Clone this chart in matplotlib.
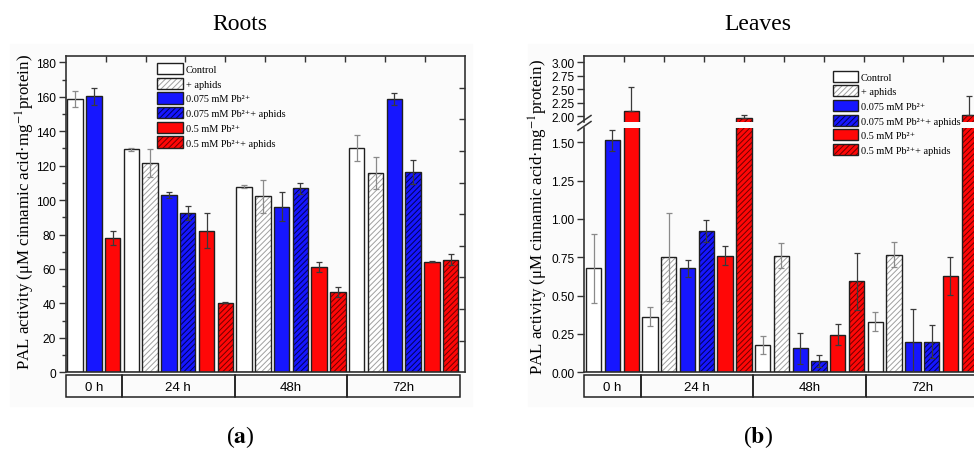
import numpy as np
import matplotlib
matplotlib.use('Agg')
import matplotlib.pyplot as plt
from matplotlib.patches import Rectangle, Patch
from matplotlib.lines import Line2D
from matplotlib.legend_handler import HandlerTuple

plt.rcParams['mathtext.fontset'] = 'stix'
plt.rcParams['hatch.linewidth'] = 0.7

nan = np.nan
# ---------------- data ----------------
groups = ['0 h', '24 h', '48h', '72h']
series_labels = ['Control', '+ aphids', '0.075 mM Pb²⁺',
                 '0.075 mM Pb²⁺+ aphids', '0.5 mM Pb²⁺',
                 '0.5 mM Pb²⁺+ aphids']

# Roots (panel a)
roots_control = [158.7, 129.5, 107.8, 130.5]
roots_control_err = [4.5, 1.0, 0.8, 7.5]
roots_aphids = [nan, 121.4, 102.2, 115.7]
roots_aphids_err = [nan, 8.0, 9.5, 9.3]
roots_pb075 = [160.3, 103.0, 96.2, 158.7]
roots_pb075_err = [5.0, 2.0, 8.5, 3.5]
roots_pb075_aph = [nan, 92.5, 106.8, 116.3]
roots_pb075_aph_err = [nan, 4.0, 3.0, 7.0]
roots_pb05 = [77.8, 82.3, 61.0, 64.3]
roots_pb05_err = [4.0, 10.0, 3.0, 0.5]
roots_pb05_aph = [nan, 40.3, 46.8, 65.4]
roots_pb05_aph_err = [nan, 0.3, 3.0, 3.2]

# Leaves (panel b)
leaves_control = [0.678, 0.361, 0.178, 0.330]
leaves_control_err = [0.225, 0.062, 0.056, 0.060]
leaves_aphids = [nan, 0.750, 0.761, 0.767]
leaves_aphids_err = [nan, 0.287, 0.083, 0.080]
leaves_pb075 = [1.513, 0.678, 0.157, 0.200]
leaves_pb075_err = [0.067, 0.055, 0.100, 0.210]
leaves_pb075_aph = [nan, 0.922, 0.074, 0.200]
leaves_pb075_aph_err = [nan, 0.072, 0.037, 0.107]
leaves_pb05 = [2.099, 0.761, 0.246, 0.628]
leaves_pb05_err = [0.440, 0.063, 0.070, 0.126]
leaves_pb05_aph = [nan, 1.969, 0.593, 2.031]
leaves_pb05_aph_err = [nan, 0.060, 0.186, 0.350]

roots_vals = [roots_control, roots_aphids, roots_pb075, roots_pb075_aph, roots_pb05, roots_pb05_aph]
roots_errs = [roots_control_err, roots_aphids_err, roots_pb075_err, roots_pb075_aph_err, roots_pb05_err, roots_pb05_aph_err]
leaves_vals = [leaves_control, leaves_aphids, leaves_pb075, leaves_pb075_aph, leaves_pb05, leaves_pb05_aph]
leaves_errs = [leaves_control_err, leaves_aphids_err, leaves_pb075_err, leaves_pb075_aph_err, leaves_pb05_err, leaves_pb05_aph_err]

# ---------------- styles ----------------
BLUE = '#1616ff'
RED = '#ff0707'
styles = [  # face, hatch, hatch colour, error colour
    ('white', None, 'white', '#8a8a8a'),
    ('white', '//////', '#a0a0a0', '#8a8a8a'),
    (BLUE, None, BLUE, '#3a3a3a'),
    (BLUE, '//////', '#00005a', '#3a3a3a'),
    (RED, None, RED, '#3a3a3a'),
    (RED, '//////', '#700000', '#3a3a3a'),
]
EDGE = '#202020'
BW = 0.82
XLIM = (-0.5, 20.75)
W, H = 974, 452

fig = plt.figure(figsize=(W / 100, H / 100), dpi=100)
SERIF = ['Liberation Serif', 'DejaVu Serif']
SANS = ['Liberation Sans', 'DejaVu Sans']


def fx(px):
    return px / W


def fy(py):
    return 1 - py / H


# light panel backgrounds
fig.add_artist(Rectangle((fx(10), fy(407)), fx(462), fy(45) - fy(407),
                         transform=fig.transFigure, color='#fbfbfb', zorder=-10))
fig.add_artist(Rectangle((fx(528), fy(407)), fx(446), fy(45) - fy(407),
                         transform=fig.transFigure, color='#fbfbfb', zorder=-10))


def layout(vals):
    xs = [[] for _ in vals]
    spans = []
    slot = 0
    for gi in range(len(groups)):
        n = 0
        for si in range(len(vals)):
            if not np.isnan(vals[si][gi]):
                xs[si].append((slot, gi))
                slot += 1
                n += 1
        spans.append(n)
    return xs, spans


def draw_bars(ax, vals, errs, up_only=False):
    xs, spans = layout(vals)
    for si, (face, hatch, hc, ec) in enumerate(styles):
        x = [p for p, g in xs[si]]
        v = [vals[si][g] for p, g in xs[si]]
        e = [errs[si][g] for p, g in xs[si]]
        ax.bar(x, v, BW, color=face, edgecolor=hc, hatch=hatch, linewidth=0, zorder=2)
        ax.bar(x, v, BW, fill=False, edgecolor=EDGE, linewidth=1.0, zorder=3)
        if up_only:
            yerr = [np.zeros(len(e)), e]
        else:
            yerr = e
        ax.errorbar(x, v, yerr=yerr, fmt='none', ecolor=ec, elinewidth=0.9,
                    capsize=2.3, capthick=0.9, zorder=4)
    return spans


def style_axis(ax, ylim, yticks, top=True, bottom=True):
    ax.set_xlim(*XLIM)
    ax.set_ylim(*ylim)
    ax.set_facecolor('none')
    ax.set_yticks(yticks)
    for s in ax.spines.values():
        s.set_color('#333333')
        s.set_linewidth(1.2)
    ax.spines['right'].set_visible(True)
    ax.spines['top'].set_visible(top)
    ax.spines['bottom'].set_visible(bottom)
    ax.set_xticks(np.linspace(XLIM[0], XLIM[1], 11)[1:-1] if top else [])
    ax.tick_params(axis='x', top=top, bottom=False, labeltop=False, labelbottom=False,
                   direction='in', length=4, width=1, color='#333333')
    ax.tick_params(axis='y', direction='out', length=5, width=1, color='#333333',
                   labelsize=8.6, pad=2)
    for lab in ax.get_yticklabels():
        lab.set_fontfamily(SANS)


def right_ticks(ax, ylim):
    ax2 = ax.twinx()
    ax2.set_ylim(*ylim)
    ax2.set_yticks(np.linspace(ylim[0], ylim[1], 11)[1:-1])
    ax2.tick_params(axis='y', direction='in', length=4, width=1, color='#333333',
                    labelright=False)
    for s in ax2.spines.values():
        s.set_visible(False)
    ax2.patch.set_visible(False)


def category_box(left_px, width_px, spans):
    cax = fig.add_axes([fx(left_px), fy(397.7), fx(width_px), (397.7 - 376) / H])
    cax.set_xlim(*XLIM)
    cax.set_ylim(0, 1)
    cax.axis('off')
    start = XLIM[0]
    for g, n in zip(groups, spans):
        cax.add_patch(Rectangle((start, 0), n, 1, fill=False, edgecolor='#222222',
                                linewidth=1.1, clip_on=False))
        cax.text(start + n / 2, 0.45, g, ha='center', va='center', fontsize=9.5,
                 family=SANS, clip_on=False)
        start += n


def add_legend(x_px, y_px):
    handles = []
    for face, hatch, hc, ec in styles:
        handles.append((Patch(facecolor=face, edgecolor=hc, hatch=hatch, linewidth=0),
                        Patch(fill=False, edgecolor=EDGE, linewidth=1.0)))
    leg = fig.legend(handles, series_labels, loc='upper left',
                     bbox_to_anchor=(fx(x_px), fy(y_px)), frameon=False,
                     handler_map={tuple: HandlerTuple(ndivide=1)},
                     prop={'family': SERIF, 'size': 7.4}, handlelength=2.5,
                     handleheight=1.3, labelspacing=0.34, handletextpad=0.25,
                     borderpad=0, borderaxespad=0)
    return leg


# ---------------- panel (a) Roots ----------------
A_LEFT, A_W = 65.7, 399.0
ax = fig.add_axes([fx(A_LEFT), fy(373.3), fx(A_W), (373.3 - 57) / H])
spans = draw_bars(ax, roots_vals, roots_errs)
ylim_a = (0, 183.7)
style_axis(ax, ylim_a, np.arange(0, 181, 20))
ax.set_yticks(np.arange(0, 181, 10), minor=True)
ax.tick_params(axis='y', which='minor', direction='out', length=3, width=1, color='#333333')
right_ticks(ax, ylim_a)
category_box(A_LEFT, A_W, spans)
add_legend(157.3, 64.0)
fig.text(fx(240), fy(24), 'Roots', ha='center', va='center', fontsize=17, family=SERIF)
fig.text(fx(240), fy(437), r'($\mathbf{a}$)', ha='center', va='center', fontsize=17, family=SERIF)
fig.text(fx(25), fy(212), 'PAL activity (μM cinnamic acid·mg$^{-1}$protein)', rotation=90,
         ha='center', va='center', fontsize=12.2, family=SERIF)

# ---------------- panel (b) Leaves (broken axis) ----------------
B_LEFT, B_W = 584.3, 399.0
axl = fig.add_axes([fx(B_LEFT), fy(373.3), fx(B_W), (373.3 - 128.7) / H])
axu = fig.add_axes([fx(B_LEFT), fy(122.7), fx(B_W), (122.7 - 56.7) / H])
spans_b = draw_bars(axl, leaves_vals, leaves_errs)
draw_bars(axu, leaves_vals, leaves_errs, up_only=True)
style_axis(axl, (0, 1.595), np.arange(0, 1.51, 0.25), top=False, bottom=True)
style_axis(axu, (1.9, 3.12), np.arange(2.0, 3.01, 0.25), top=True, bottom=False)
axl.yaxis.set_major_formatter(matplotlib.ticker.FormatStrFormatter('%.2f'))
axu.yaxis.set_major_formatter(matplotlib.ticker.FormatStrFormatter('%.2f'))
for a in (axl, axu):
    for lab in a.get_yticklabels():
        lab.set_fontfamily(SANS)
category_box(B_LEFT, B_W, spans_b)
add_legend(832.7, 71.5)
# break marks on the left spine
for yc in (121.0, 127.0):
    fig.add_artist(Line2D([fx(578), fx(591)], [fy(yc + 4.5), fy(yc - 4.5)],
                          transform=fig.transFigure, color='#333333', linewidth=1.1))
fig.text(fx(758), fy(24), 'Leaves', ha='center', va='center', fontsize=17, family=SERIF)
fig.text(fx(758), fy(437), r'($\mathbf{b}$)', ha='center', va='center', fontsize=17, family=SERIF)
fig.text(fx(538), fy(217), 'PAL activity (μM cinnamic acid·mg$^{-1}$protein)', rotation=90,
         ha='center', va='center', fontsize=12.2, family=SERIF)

fig.savefig('out.png', dpi=100)
